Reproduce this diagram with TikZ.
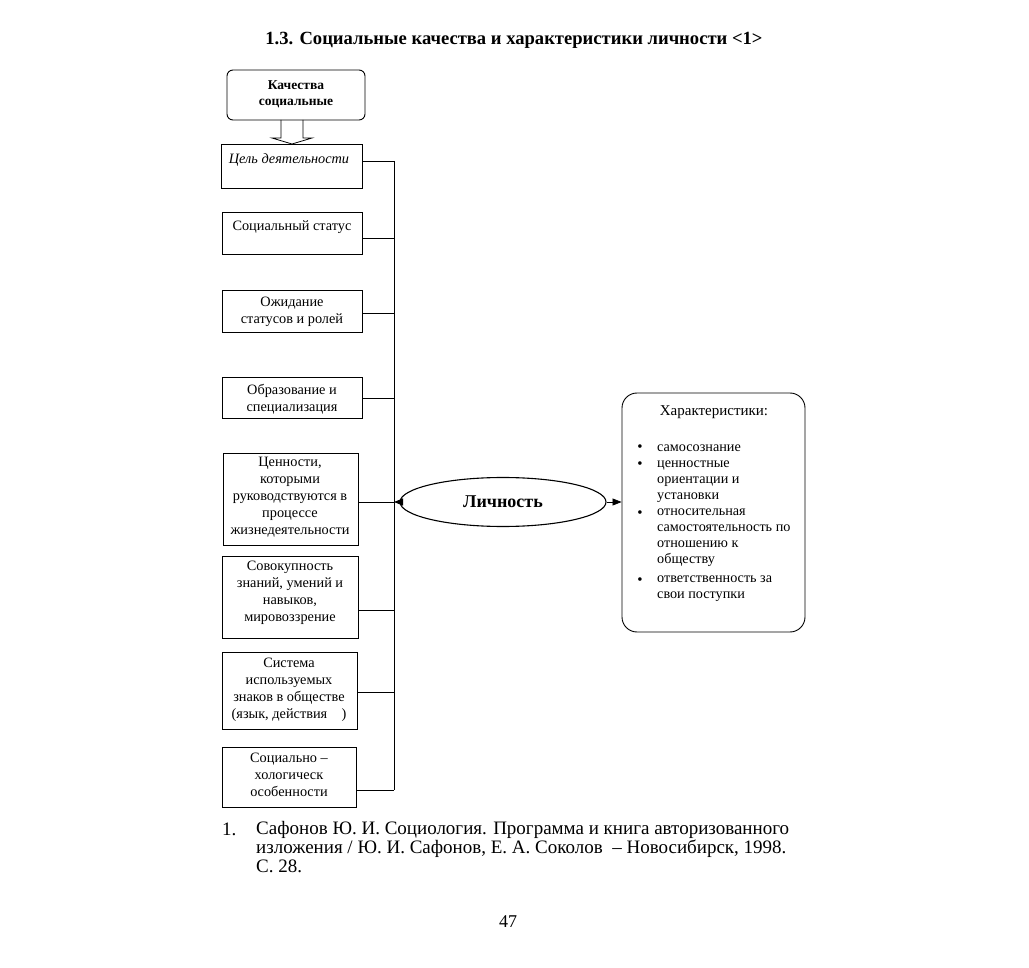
\documentclass[tikz,border=0pt]{standalone}
\usepackage{fontspec}
\setmainfont{Liberation Serif}
\usetikzlibrary{fit,arrows.meta,shapes.geometric}
\begin{document}
\begin{tikzpicture}[x=1pt,y=-1pt,
  box/.style={draw, line width=0.9pt, inner sep=0pt},
  btxt/.style={font=\fontsize{14.3}{17}\selectfont, align=center, inner sep=0pt},
  rtxt/.style={font=\fontsize{14.2}{16}\selectfont, align=left, inner sep=0pt, anchor=west},
  bul/.style={font=\fontsize{15}{16}\selectfont, inner sep=0pt},
  conn/.style={line width=0.8pt},
  arr/.style={line width=0.8pt, -{Triangle[length=9pt,width=7pt]}}]
\useasboundingbox (0,0) rectangle (1029,968);
\fill[white] (0,0) rectangle (1029,968);

% title
\node[font=\fontsize{18.6}{20}\selectfont\bfseries, inner sep=0pt] (title) at (514,40) {1.3. Социальные качества и характеристики личности <1>};

% top box
\node[box, rounded corners=6pt, fit={(227,70) (365,120)}] (q) {};
\node[btxt, font=\fontsize{13.5}{16}\selectfont\bfseries] (qt) at (296,94) {Качества\\социальные};

% hollow arrow
\draw[line width=0.8pt] (281,120) -- (281,138) -- (272,138) -- (292,144) -- (312,138) -- (303,138) -- (303,120);

% left boxes
\node[box, fit={(221,144) (362,188)}] (b1) {};
\node[btxt, font=\fontsize{14.3}{17}\selectfont\itshape] (t1) at (289,160) {Цель деятельности};
\node[box, fit={(222,212) (362,254)}] (b2) {};
\node[btxt] (t2) at (292,227) {Социальный статус};
\node[box, fit={(222,290) (362,332)}] (b3) {};
\node[btxt] (t3) at (292,312) {Ожидание\\статусов и ролей};
\node[box, fit={(222,377) (362,418)}] (b4) {};
\node[btxt] (t4) at (292,399) {Образование и\\специализация};
\node[box, fit={(223,453) (358,545)}] (b5) {};
\node[btxt] (t5) at (290,497) {Ценности,\\которыми\\руководствуются в\\процессе\\жизнедеятельности};
\node[box, fit={(222,556) (358,638)}] (b6) {};
\node[btxt] (t6) at (290,593) {Совокупность\\знаний, умений и\\навыков,\\мировоззрение};
\node[box, fit={(222,652) (357,729)}] (b7) {};
\node[btxt] (t7) at (289,690) {Система\\используемых\\знаков в обществе\\(язык, действия\quad)};
\node[box, fit={(222,747) (356,807)}] (b8) {};
\node[btxt] (t8) at (289,775) {Социально –\\хологическ\\особенности};

% bus
\coordinate (j1) at (394,161);
\coordinate (j2) at (394,238);
\coordinate (j3) at (394,313);
\coordinate (j4) at (394,398);
\coordinate (j5) at (394,502);
\coordinate (j6) at (394,610);
\coordinate (j7) at (394,692);
\coordinate (j8) at (394,790);
\draw[conn] (j1) -- (j8);
\foreach \i in {1,...,8} { \draw[conn] (b\i.east |- j\i) -- (j\i); }

% ellipse
\node[ellipse, draw, line width=1.1pt, minimum width=206pt, minimum height=49pt, inner sep=0pt,
  font=\fontsize{18}{20}\selectfont\bfseries] (p) at (503,502) {Личность};
\draw[arr] (p.west) -- (j5);

% right box
\node[box, rounded corners=15pt, fit={(622,393) (805,632)}] (r) {};
\draw[arr] (p.east) -- (r.west |- p.east);
\node[font=\fontsize{15}{16}\selectfont, inner sep=0pt] (rh) at (714,412) {Характеристики:};
\node[bul] (d1) at (640,448) {•};
\node[rtxt] (r1) at (657,448) {самосознание};
\node[bul] (d2) at (640,465) {•};
\node[rtxt] (r2) at (657,482) {ценностные\\ориентации и\\установки};
\node[bul] (d3) at (640,514) {•};
\node[rtxt] (r3) at (657,538) {относительная\\самостоятельность по\\отношению к\\обществу};
\node[bul] (d4) at (640,581) {•};
\node[rtxt] (r4) at (657,589) {ответственность за\\свои поступки};

% footnote
\node[font=\fontsize{19}{19}\selectfont, inner sep=0pt, anchor=base west] (fn) at (222,835) {1.};
\node[font=\fontsize{19}{19}\selectfont, inner sep=0pt, anchor=north west, align=left] (ft) at (256,821)
  {Сафонов Ю. И. Социология. Программа и книга авторизованного\\изложения / Ю. И. Сафонов, Е. А. Соколов \ -- Новосибирск, 1998.\\С. 28.};

% page number
\node[font=\fontsize{18}{20}\selectfont, inner sep=0pt] (pg) at (508,922) {47};
\end{tikzpicture}
\end{document}
